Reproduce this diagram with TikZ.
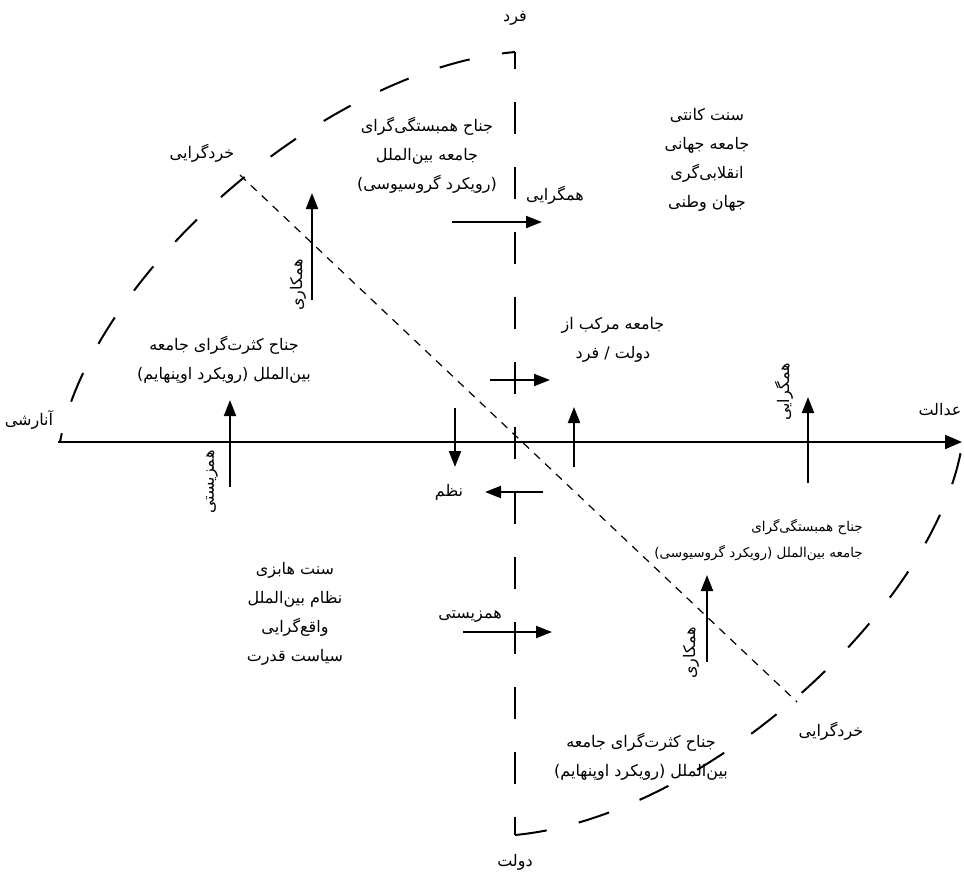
\documentclass[tikz,border=0pt]{standalone}
\usepackage{fontspec}
\newfontfamily\farsi[Script=Arabic]{DejaVu Sans}
\TeXXeTstate=1
\usetikzlibrary{arrows.meta}
\newcommand{\fa}[1]{\beginR #1\endR}

\tikzset{
  lbl/.style={font=\farsi\fontsize{16}{29}\selectfont, inner sep=0pt, align=center},
  small/.style={font=\farsi\fontsize{13.5}{26}\selectfont},
  axisline/.style={line width=2pt},
  arr/.style={line width=2pt, -{Triangle[length=16pt,width=12pt]}},
  longdash/.style={line width=2pt, dash pattern=on 32pt off 33pt},
  shortdash/.style={line width=1.2pt, dash pattern=on 8pt off 7pt},
}

\begin{document}
\begin{tikzpicture}[x=1pt,y=-1pt]
\useasboundingbox (0,0) rectangle (964,876);
% axes
\coordinate (west) at (58,442);
\coordinate (east) at (962,442);
\coordinate (north) at (515,52);
\coordinate (south) at (515,835);
\coordinate (arcw) at (60,442);
\coordinate (arce) at (962,445);
\draw[axisline,-{Triangle[length=17pt,width=14pt]}] (west) -- (east);
\draw[longdash,dash phase=15pt] (north) -- (south);
\draw[longdash,dash pattern=on 31pt off 33pt,dash phase=18pt] (north) .. controls (320,70) and (90,280) .. (arcw);
\draw[longdash] (south) .. controls (706,817) and (936,607) .. (arce);
\coordinate (rat1) at (240,175);
\coordinate (rat2) at (797,702);
\draw[shortdash] (rat1) -- (rat2);

% small arrows
\foreach \n/\xa/\ya/\xb/\yb in {a1/312/300/312/193, a2/452/222/542/222,
  a3/490/380/550/380, a4/230/487/230/400, a5/455/408/455/467,
  a6/574/467/574/407, a7/808/483/808/397, a8/543/492/485/492,
  a9/463/632/552/632, a10/707/662/707/575}{
  \coordinate (\n s) at (\xa,\ya);
  \coordinate (\n e) at (\xb,\yb);
  \draw[arr] (\n s) -- (\n e);
}

% axis labels
\node[lbl] (fard) at (515,18) {\fa{فرد}};
\node[lbl] (dowlat) at (515,862) {\fa{دولت}};
\node[lbl] (anarshi) at (29,420) {\fa{آنارشی}};
\node[lbl] (edalat) at (940,410) {\fa{عدالت}};
\node[lbl] (kherad1) at (202,153) {\fa{خردگرایی}};
\node[lbl] (kherad2) at (831,731) {\fa{خردگرایی}};

% arrow labels
\node[lbl] (hamgera1) at (555,195) {\fa{همگرایی}};
\node[lbl,rotate=90] (hamkari1) at (298,285) {\fa{همکاری}};
\node[lbl,rotate=90] (hamzist1) at (212,482) {\fa{همزیستی}};
\node[lbl,rotate=90] (hamgera2) at (784,392) {\fa{همگرایی}};
\node[lbl] (nazm) at (449,492) {\fa{نظم}};
\node[lbl] (hamzist2) at (470,617) {\fa{همزیستی}};
\node[lbl,rotate=90] (hamkari2) at (691,653) {\fa{همکاری}};

% blocks
\node[lbl] (grotius1) at (427,155) {\fa{جناح همبستگی‌گرای}\\\fa{جامعه بین‌الملل}\\\fa{(رویکرد گروسیوسی)}};
\node[lbl] (kant) at (707,160) {\fa{سنت کانتی}\\\fa{جامعه جهانی}\\\fa{انقلابی‌گری}\\\fa{جهان وطنی}};
\node[lbl] (oppen1) at (224,360) {\fa{جناح کثرت‌گرای جامعه}\\\fa{بین‌الملل (رویکرد اوپنهایم)}};
\node[lbl] (markab) at (613,340) {\fa{جامعه مرکب از}\\\fa{دولت / فرد}};
\node[lbl,small,align=right,anchor=east] (grotius2) at (863,540) {\fa{جناح همبستگی‌گرای}\\\fa{جامعه بین‌الملل (رویکرد گروسیوسی)}};
\node[lbl] (hobbes) at (295,614) {\fa{سنت هابزی}\\\fa{نظام بین‌الملل}\\\fa{واقع‌گرایی}\\\fa{سیاست قدرت}};
\node[lbl] (oppen2) at (641,757) {\fa{جناح کثرت‌گرای جامعه}\\\fa{بین‌الملل (رویکرد اوپنهایم)}};
\end{tikzpicture}
\end{document}
